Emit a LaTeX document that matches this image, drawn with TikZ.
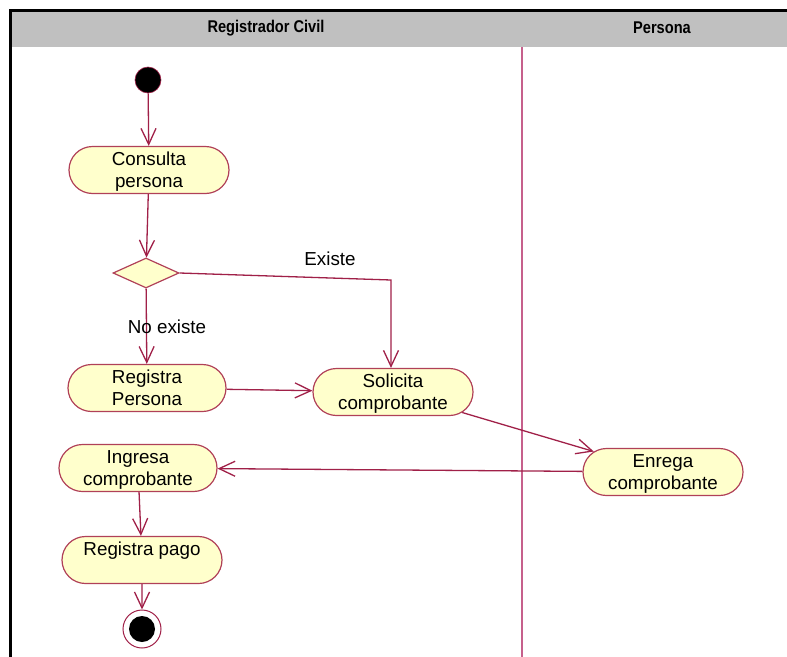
\documentclass[tikz,border=0pt]{standalone}
\usepackage{fontspec}
\setmainfont{Liberation Sans}
\newfontfamily\headfont[FakeStretch=0.86]{Liberation Sans}
\usetikzlibrary{shapes.misc,shapes.geometric,arrows.meta}

\definecolor{flowline}{RGB}{160,32,72}
\definecolor{actline}{RGB}{176,64,88}
\definecolor{actfill}{RGB}{255,255,204}
\definecolor{lanegray}{RGB}{192,192,192}
\definecolor{lanediv}{RGB}{198,96,140}

\begin{document}
\begin{tikzpicture}[x=1pt,y=-1pt,
  act/.style={rounded rectangle,draw=actline,fill=actfill,line width=1.2pt,
    minimum width=160pt,minimum height=47pt,inner sep=0pt,align=center,
    font=\fontsize{18.8}{22}\selectfont,text depth=0pt},
  decision/.style={diamond,draw=actline,fill=actfill,line width=1.2pt,
    minimum width=66pt,minimum height=30pt,inner sep=0pt},
  flow/.style={draw=flowline,line width=1.3pt,
    -{Straight Barb[length=16pt,width=15pt,line width=1.3pt]}},
  guard/.style={font=\fontsize{18.8}{22}\selectfont},
  lanehead/.style={font=\headfont\bfseries\fontsize{17}{20}\selectfont}]
\useasboundingbox (0,0) rectangle (787,656);
\clip (0,0) rectangle (787,656);

\fill[lanegray] (10,10) rectangle (800,47);
\draw[line width=3pt] (10,700) -- (10,10) -- (800,10);
\draw[lanediv,line width=1.5pt] (522,47) -- (522,700);
\node[lanehead] (laneReg) at (266,28) {Registrador Civil};
\node[lanehead] (lanePer) at (662,28) {Persona};

\node[circle,fill=black,draw=flowline,line width=0.6pt,minimum size=26pt,inner sep=0pt] (inicio) at (148,80) {};
\node[act] (consulta) at (149,170) {Consulta\\persona};
\node[decision] (existe) at (146,273) {};
\node[act,minimum width=158pt] (regper) at (147,388) {Registra\\Persona};
\node[act] (solicita) at (393,392) {Solicita\\comprobante};
\node[act] (enrega) at (663,472) {Enrega\\comprobante};
\node[act,minimum width=158pt] (ingresa) at (138,468) {Ingresa\\comprobante};
\node[act] (pago) at (142,560) {Registra pago\\\mbox{}};
\node[circle,draw=flowline,fill=white,line width=1pt,minimum size=38pt,inner sep=0pt] (fin) at (142,629) {};
\fill (fin) circle (13);
\coordinate (codo) at (391,280);

\draw[flow] (inicio) -- (consulta);
\draw[flow] (consulta) -- (existe);
\draw[flow] (existe.east) -- (codo) -- (solicita.north-|codo);
\draw[flow] (existe) -- (regper);
\draw[flow] (regper) -- (solicita);
\draw[flow] (solicita) -- (enrega);
\draw[flow] (enrega) -- (ingresa);
\draw[flow] (ingresa) -- (pago);
\draw[flow] (pago) -- (fin);

\node[guard] (lblExiste) at (330,259) {Existe};
\node[guard] (lblNoExiste) at (167,327) {No existe};
\end{tikzpicture}
\end{document}
